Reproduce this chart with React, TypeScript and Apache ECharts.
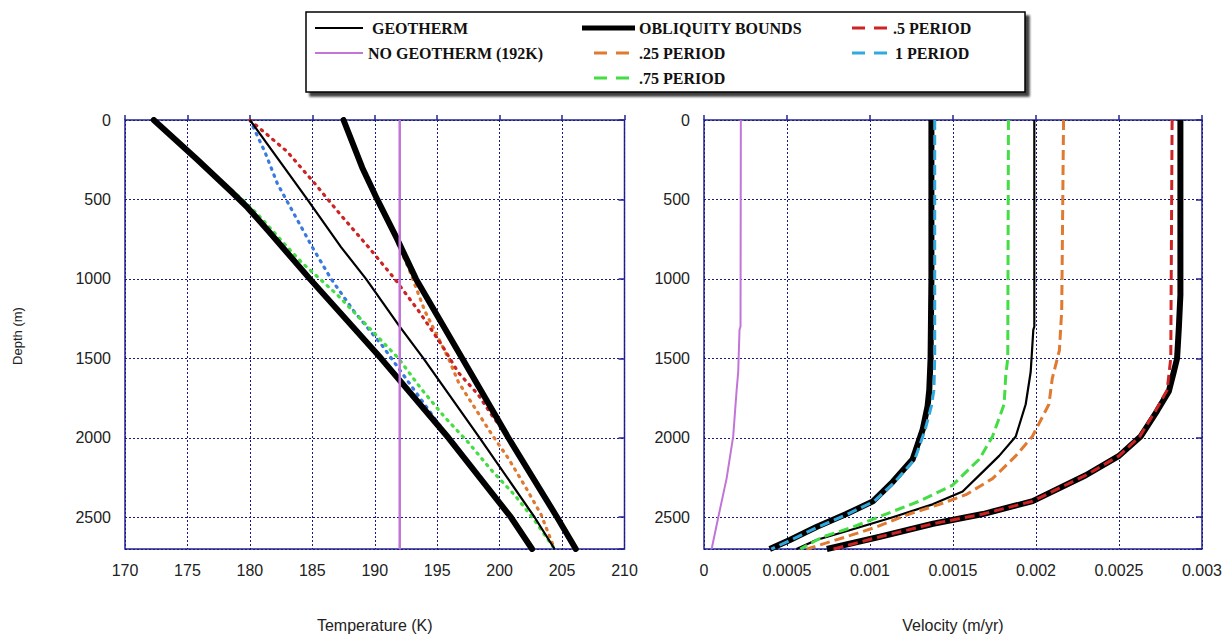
import React, { useEffect, useRef } from "react";
import * as echarts from "echarts";

// ---------- LEFT PANEL: Temperature (K) vs Depth (m) ----------
const geoDepthL = [0, 500, 800, 1000, 1300, 1500, 2000, 2500, 2700];
const geoTempL = [180.0, 184.6, 187.3, 189.3, 192.0, 193.9, 198.4, 202.8, 204.4];

const lowBoundDepthL = [0, 250, 450, 550, 700, 1000, 1500, 2000, 2500, 2700];
const lowBoundTempL = [172.3, 175.8, 178.5, 179.8, 181.5, 184.8, 190.5, 195.9, 200.9, 202.6];

const highBoundDepthL = [0, 300, 500, 750, 1000, 1500, 2000, 2500, 2700];
const highBoundTempL = [187.5, 189.0, 190.2, 191.8, 193.3, 197.0, 200.7, 204.6, 206.1];

const p1DepthL = [0, 200, 400, 600, 800, 1000, 1200, 1420, 1660, 1900, 2200, 2500, 2700];
const p1TempL = [180.0, 181.2, 182.2, 183.6, 185.0, 186.5, 188.3, 190.6, 192.8, 195.0, 197.9, 200.9, 202.6];

const p75DepthL = [0, 250, 500, 600, 800, 900, 1100, 1320, 1500, 1690, 1870, 2030, 2200, 2360, 2520, 2700];
const p75TempL = [172.3, 175.8, 179.4, 180.7, 183.0, 184.2, 187.0, 189.7, 191.9, 193.7, 195.6, 197.5, 199.3, 201.2, 202.8, 204.4];

const p5DepthL = [0, 60, 200, 400, 600, 800, 1000, 1200, 1420, 1590, 1730, 1850, 2000, 2500, 2700];
const p5TempL = [180.0, 180.9, 183.0, 185.2, 187.3, 189.5, 191.6, 193.5, 195.4, 196.7, 198.3, 199.3, 200.7, 204.6, 206.0];

const p25DepthL = [0, 300, 500, 610, 790, 950, 1200, 1500, 1650, 1810, 1970, 2130, 2300, 2480, 2640, 2700];
const p25TempL = [187.5, 189.0, 190.2, 191.0, 191.9, 192.8, 194.0, 195.9, 196.7, 198.0, 199.3, 200.7, 202.0, 203.3, 204.1, 204.4];

const noGeoDepthL = [0, 2700];
const noGeoTempL = [192, 192];

// ---------- RIGHT PANEL: Velocity (m/yr) vs Depth (m) ----------
const noGeoDepthR = [0, 1300, 1320, 1586, 1708, 1990, 2257, 2500, 2700];
const noGeoVelR = [0.000222, 0.00022, 0.000214, 0.000206, 0.000196, 0.000176, 0.000136, 0.000086, 0.000046];

const lowBoundDepthR = [0, 1000, 1500, 1700, 1800, 1950, 2135, 2277, 2400, 2480, 2562, 2643, 2700];
const lowBoundVelR = [0.00137, 0.00137, 0.001365, 0.001357, 0.001347, 0.001317, 0.001257, 0.001137, 0.001017, 0.000857, 0.000677, 0.000517, 0.000396];

const p1DepthR = [0, 1500, 1700, 1800, 1950, 2135, 2277, 2400, 2480, 2562, 2643, 2700];
const p1VelR = [0.00139, 0.00139, 0.001385, 0.00137, 0.001332, 0.00127, 0.00115, 0.001025, 0.000865, 0.000685, 0.000525, 0.000405];

const geoDepthR = [0, 1300, 1320, 1586, 1789, 1992, 2114, 2216, 2338, 2419, 2500, 2582, 2643, 2700];
const geoVelR = [0.00199, 0.00199, 0.001984, 0.001968, 0.001938, 0.001878, 0.001778, 0.001678, 0.001558, 0.001377, 0.001137, 0.000877, 0.000677, 0.000557];

const p75DepthR = [0, 1500, 1606, 1789, 1992, 2135, 2298, 2399, 2480, 2562, 2623, 2700];
const p75VelR = [0.001834, 0.00183, 0.001818, 0.001808, 0.001738, 0.001658, 0.001498, 0.001297, 0.001097, 0.000897, 0.000717, 0.00058];

const p25DepthR = [0, 1200, 1450, 1627, 1789, 1992, 2114, 2257, 2358, 2419, 2480, 2562, 2623, 2700];
const p25VelR = [0.002166, 0.002155, 0.002141, 0.002098, 0.002078, 0.001978, 0.001878, 0.001738, 0.001578, 0.001418, 0.001237, 0.001037, 0.000857, 0.00062];

const highBoundDepthR = [0, 1100, 1300, 1500, 1586, 1708, 1830, 1992, 2114, 2236, 2399, 2480, 2541, 2623, 2700];
const highBoundVelR = [0.00287, 0.00287, 0.002861, 0.00285, 0.00283, 0.0028, 0.00273, 0.00263, 0.0025, 0.0023, 0.00198, 0.00168, 0.00138, 0.00106, 0.00074];

const p5DepthR = [0, 1500, 1700, 1830, 1992, 2114, 2236, 2399, 2480, 2541, 2623, 2700];
const p5VelR = [0.00282, 0.002812, 0.00279, 0.00272, 0.002625, 0.0025, 0.0023, 0.00198, 0.00168, 0.00138, 0.00106, 0.00078];

// ---------- Labels ----------
const legendNames = {
  geo: "GEOTHERM",
  noGeo: "NO GEOTHERM (192K)",
  bounds: "OBLIQUITY BOUNDS",
  p25: ".25 PERIOD",
  p75: ".75 PERIOD",
  p5: ".5 PERIOD",
  p1: "1 PERIOD",
};

const COL = {
  frame: "#24249a",
  grid: "#1a1a7c",
  red: "#cc2424",
  orange: "#e07a30",
  green: "#44dd44",
  blueL: "#3a7ae0",
  cyan: "#30aadd",
  purple: "#c275d8",
};

const pairs = (xs: number[], ys: number[]) => xs.map((x, i) => [x, ys[i]]);

const SANS = "'Liberation Sans', Arial, sans-serif";
const SERIF = "'Liberation Serif', 'Times New Roman', serif";

function line(name: string, xi: number, yi: number, data: number[][], color: string, width: number, type: any, z = 2, cap: any = "butt") {
  return {
    name,
    type: "line",
    xAxisIndex: xi,
    yAxisIndex: yi,
    data,
    showSymbol: false,
    symbol: "none",
    z,
    lineStyle: { color, width, type, cap, join: "round" },
    emphasis: { disabled: true },
  };
}

export default function App() {
  const ref = useRef<HTMLDivElement>(null);
  useEffect(() => {
    if (!ref.current) return;
    const chart = echarts.init(ref.current, null, { renderer: "svg" });

    const dotted = [1.5, 6];
    const dashed = [10, 5];
    const depthFmt = (v: number) => String(v);

    const yAxisBase = {
      type: "value",
      min: 0,
      max: 2700,
      interval: 500,
      inverse: true,
    };

    const option = {
      animation: false,
      backgroundColor: "#ffffff",
      grid: [
        { left: 125, top: 120, width: 499.5, height: 442, show: true, borderColor: COL.frame, borderWidth: 1.5, backgroundColor: "transparent" },
        { left: 704, top: 120, width: 499.5, height: 442, show: true, borderColor: COL.frame, borderWidth: 1.5, backgroundColor: "transparent" },
      ],
      xAxis: [
        {
          type: "value",
          gridIndex: 0,
          min: 170,
          max: 210,
          interval: 5,
          name: "Temperature (K)",
          nameLocation: "middle",
          nameGap: 68,
          nameTextStyle: { fontFamily: SANS, fontSize: 16, color: "#222" },
          axisLine: { show: false },
          axisTick: { show: true, inside: true, length: 5, lineStyle: { color: COL.frame, width: 1.5 } },
          axisLabel: { fontFamily: SANS, fontSize: 16, color: "#222", margin: 13 },
          splitLine: { show: true, lineStyle: { color: COL.grid, type: [2, 2], width: 1 } },
        },
        {
          type: "value",
          gridIndex: 1,
          min: 0,
          max: 0.003,
          interval: 0.0005,
          name: "Velocity (m/yr)",
          nameLocation: "middle",
          nameGap: 68,
          nameTextStyle: { fontFamily: SANS, fontSize: 16, color: "#222" },
          axisLine: { show: false },
          axisTick: { show: true, inside: true, length: 5, lineStyle: { color: COL.frame, width: 1.5 } },
          axisLabel: {
            fontFamily: SANS,
            fontSize: 16,
            color: "#222",
            margin: 13,
            formatter: (v: number) => (v === 0 ? "0" : String(parseFloat(v.toFixed(4)))),
          },
          splitLine: { show: true, lineStyle: { color: COL.grid, type: [2, 2], width: 1 } },
        },
      ],
      yAxis: [
        {
          ...yAxisBase,
          gridIndex: 0,
          position: "left",
          axisLine: { show: false },
          axisTick: { show: false },
          axisLabel: { fontFamily: SANS, fontSize: 16, color: "#222", margin: 14, showMaxLabel: false, formatter: depthFmt },
          splitLine: { show: true, lineStyle: { color: COL.grid, type: [2, 2], width: 1 } },
        },
        {
          ...yAxisBase,
          gridIndex: 0,
          position: "right",
          axisLine: { show: false },
          axisTick: { show: true, inside: true, length: 6, lineStyle: { color: COL.frame, width: 1.5 } },
          axisLabel: { show: false },
          splitLine: { show: false },
        },
        {
          ...yAxisBase,
          gridIndex: 1,
          position: "left",
          axisLine: { show: false },
          axisTick: { show: false },
          axisLabel: { fontFamily: SANS, fontSize: 16, color: "#222", margin: 14, showMaxLabel: false, formatter: depthFmt },
          splitLine: { show: true, lineStyle: { color: COL.grid, type: [2, 2], width: 1 } },
        },
        {
          ...yAxisBase,
          gridIndex: 1,
          position: "right",
          axisLine: { show: false },
          axisTick: { show: true, inside: true, length: 6, lineStyle: { color: COL.frame, width: 1.5 } },
          axisLabel: { show: false },
          splitLine: { show: false },
        },
      ],
      series: [
        // left panel
        line(legendNames.bounds, 0, 0, pairs(lowBoundTempL, lowBoundDepthL), "#000", 6, "solid", 3, "round"),
        line(legendNames.bounds, 0, 0, pairs(highBoundTempL, highBoundDepthL), "#000", 6, "solid", 3, "round"),
        line(legendNames.geo, 0, 0, pairs(geoTempL, geoDepthL), "#000", 2.2, "solid", 3),
        line(legendNames.p1, 0, 0, pairs(p1TempL, p1DepthL), COL.blueL, 3.2, dotted, 2, "round"),
        line(legendNames.p75, 0, 0, pairs(p75TempL, p75DepthL), COL.green, 3.2, dotted, 2, "round"),
        line(legendNames.p25, 0, 0, pairs(p25TempL, p25DepthL), COL.orange, 3.2, dotted, 2, "round"),
        line(legendNames.p5, 0, 0, pairs(p5TempL, p5DepthL), COL.red, 3.2, dotted, 2, "round"),
        line(legendNames.noGeo, 0, 0, pairs(noGeoTempL, noGeoDepthL), COL.purple, 2.5, "solid", 4),
        // right panel
        line(legendNames.noGeo, 1, 2, pairs(noGeoVelR, noGeoDepthR), COL.purple, 2, "solid", 4),
        line(legendNames.bounds, 1, 2, pairs(lowBoundVelR, lowBoundDepthR), "#000", 6, "solid", 2),
        line(legendNames.bounds, 1, 2, pairs(highBoundVelR, highBoundDepthR), "#000", 6, "solid", 2),
        line(legendNames.geo, 1, 2, pairs(geoVelR, geoDepthR), "#000", 2.2, "solid", 2),
        line(legendNames.p1, 1, 2, pairs(p1VelR, p1DepthR), COL.cyan, 3, dashed, 3),
        line(legendNames.p75, 1, 2, pairs(p75VelR, p75DepthR), COL.green, 3, dashed, 3),
        line(legendNames.p25, 1, 2, pairs(p25VelR, p25DepthR), COL.orange, 3, dashed, 3),
        line(legendNames.p5, 1, 2, pairs(p5VelR, p5DepthR), COL.red, 3, dashed, 3),
      ],
      graphic: [
        {
          type: "text",
          x: 17,
          y: 336,
          rotation: Math.PI / 2,
          style: { text: "Depth (m)", font: `13px ${SANS}`, fill: "#222", align: "center", verticalAlign: "middle" },
        },
        {
          type: "group",
          children: [
            {
              type: "rect",
              shape: { x: 306, y: 12, width: 719, height: 80 },
              style: { fill: "#fff", stroke: "#000", lineWidth: 1.5, shadowBlur: 2, shadowOffsetX: 4, shadowOffsetY: 4, shadowColor: "rgba(0,0,0,0.75)" },
            },
            // row 1
            { type: "line", shape: { x1: 315, y1: 28, x2: 363, y2: 28 }, style: { stroke: "#000", lineWidth: 2 } },
            { type: "text", x: 372, y: 28, style: { text: legendNames.geo, font: `bold 16px ${SERIF}`, fill: "#111", verticalAlign: "middle" } },
            { type: "line", shape: { x1: 582, y1: 28, x2: 635, y2: 28 }, style: { stroke: "#000", lineWidth: 5 } },
            { type: "text", x: 639, y: 28, style: { text: legendNames.bounds, font: `bold 16px ${SERIF}`, fill: "#111", verticalAlign: "middle" } },
            { type: "line", shape: { x1: 852, y1: 28, x2: 887, y2: 28 }, style: { stroke: COL.red, lineWidth: 3, lineDash: [13, 9] } },
            { type: "text", x: 893, y: 28, style: { text: legendNames.p5, font: `bold 16px ${SERIF}`, fill: "#111", verticalAlign: "middle" } },
            // row 2
            { type: "line", shape: { x1: 315, y1: 53, x2: 363, y2: 53 }, style: { stroke: COL.purple, lineWidth: 2 } },
            { type: "text", x: 368, y: 53, style: { text: legendNames.noGeo, font: `bold 16px ${SERIF}`, fill: "#111", verticalAlign: "middle" } },
            { type: "line", shape: { x1: 594, y1: 53, x2: 629, y2: 53 }, style: { stroke: COL.orange, lineWidth: 3, lineDash: [13, 9] } },
            { type: "text", x: 639, y: 53, style: { text: legendNames.p25, font: `bold 16px ${SERIF}`, fill: "#111", verticalAlign: "middle" } },
            { type: "line", shape: { x1: 852, y1: 53, x2: 887, y2: 53 }, style: { stroke: COL.cyan, lineWidth: 3, lineDash: [13, 9] } },
            { type: "text", x: 895, y: 53, style: { text: legendNames.p1, font: `bold 16px ${SERIF}`, fill: "#111", verticalAlign: "middle" } },
            // row 3
            { type: "line", shape: { x1: 594, y1: 78, x2: 629, y2: 78 }, style: { stroke: COL.green, lineWidth: 3, lineDash: [13, 9] } },
            { type: "text", x: 639, y: 78, style: { text: legendNames.p75, font: `bold 16px ${SERIF}`, fill: "#111", verticalAlign: "middle" } },
          ],
        },
      ],
    };

    chart.setOption(option as any);
    return () => chart.dispose();
  }, []);

  return (
    <div
      ref={ref}
      style={{ position: "fixed", left: 0, top: 0, width: 1225, height: 638, background: "#fff" }}
    />
  );
}
